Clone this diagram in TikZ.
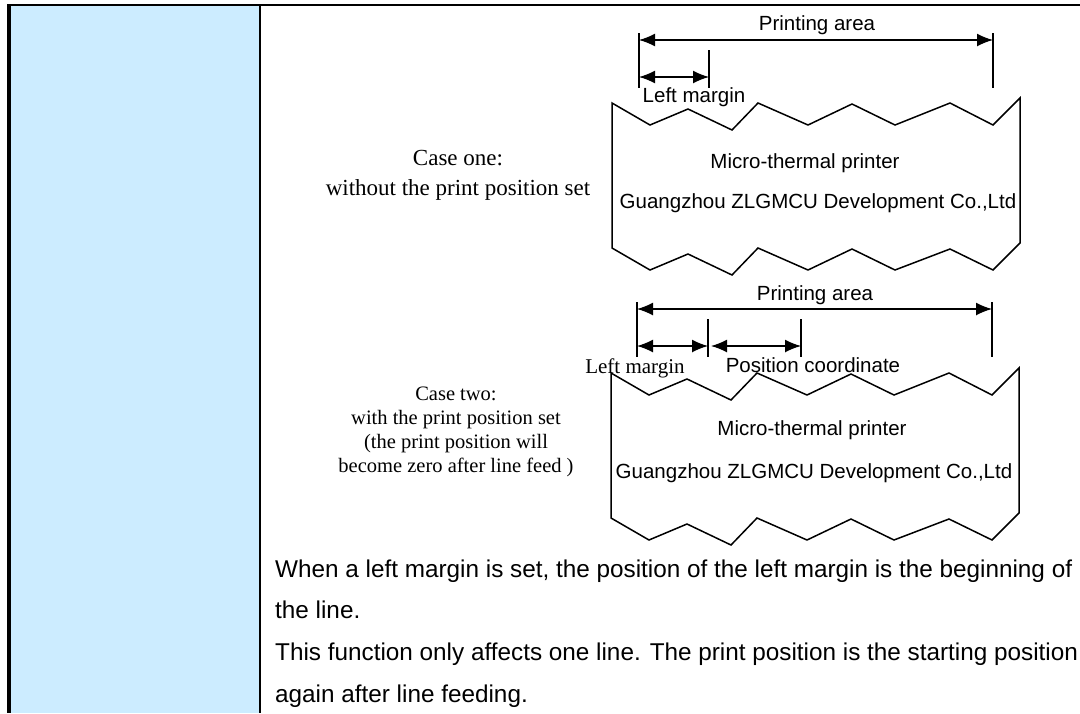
\documentclass[tikz,border=0pt]{standalone}
\usepackage{fontspec}
\setmainfont{Liberation Serif}
\newfontfamily\arial{Liberation Sans}
\usetikzlibrary{arrows.meta}

\definecolor{cellblue}{RGB}{204,236,255}

\tikzset{
  paper/.style={line width=1.5pt, line join=miter},
  tick/.style={line width=1.4pt},
  dimline/.style={line width=1.4pt, {Latex[length=16pt,width=13pt]}-{Latex[length=16pt,width=13pt]}},
  dimlabel/.style={font=\arial\fontsize{20.5}{24}\selectfont, anchor=base, inner sep=0pt},
  casetext/.style={align=center, anchor=base, inner sep=0pt},
  para/.style={font=\arial\fontsize{24.3}{29}\selectfont, anchor=base west, inner sep=0pt}
}

\begin{document}
\begin{tikzpicture}[x=1pt, y=-1pt]
\useasboundingbox (0,0) rectangle (1080,713);

% table cell
\fill[cellblue] (9,5) rectangle (260,713);
\draw[line width=2.5pt] (8,5) -- (1080,5);
\draw[line width=3.7pt] (9,4) -- (9,713);
\draw[line width=2.5pt] (260,5) -- (260,713);

% the two paper strips
\foreach \i/\dx/\dy in {1/0/0, 2/-1/270}
{
  \draw[paper, shift={(\dx,\dy)}] (612,103) -- (650,125) -- (688,109) -- (732,130)
    -- (758,103) -- (808,125) -- (852,104) -- (895,125) -- (950,103) -- (993,125)
    -- (1020,98) -- (1020,243) -- (993,270) -- (950,249) -- (895,270) -- (852,249)
    -- (808,270) -- (758,248) -- (732,275) -- (688,254) -- (650,270) -- (612,248) -- cycle;
}

% case one
\coordinate (pl1) at (639,33);
\coordinate (pr1) at (993,33);
\coordinate (lm1) at (709,50);
\draw[tick] (pl1) -- ++(0,55);
\draw[tick] (pr1) -- ++(0,55);
\draw[tick] (lm1) -- ++(0,38);
\draw[dimline] (pl1 |- 0,40) -- (pr1 |- 0,40);
\draw[dimline] (pl1 |- 0,77) -- (lm1 |- 0,77);

\node[dimlabel] (pa1) at (817,30) {Printing area};
\node[dimlabel] (lmt1) at (694,102) {Left margin};
\node[dimlabel] (mtp1) at (805,168) {Micro-thermal printer};
\node[dimlabel] (gz1) at (818,208) {Guangzhou ZLGMCU Development Co.,Ltd};
\node[casetext, font=\fontsize{23}{30}\selectfont] (case1) at (458,195)
  {Case one:\\without the print position set};

% case two
\coordinate (pl2) at (637,302);
\coordinate (pr2) at (992,302);
\coordinate (lm2) at (708,319);
\coordinate (pc2) at (801,319);
\draw[tick] (pl2) -- ++(0,55);
\draw[tick] (pr2) -- ++(0,55);
\draw[tick] (lm2) -- ++(0,38);
\draw[tick] (pc2) -- ++(0,38);
\draw[dimline] (pl2 |- 0,309) -- (pr2 |- 0,309);
\draw[dimline] (pl2 |- 0,346) -- (lm2 |- 0,346);
\draw[dimline, shorten <=3pt] (lm2 |- 0,346) -- (pc2 |- 0,346);

\node[dimlabel] (pa2) at (815,300) {Printing area};
\node[anchor=base, inner sep=0pt, font=\fontsize{21}{24}\selectfont] (lmt2) at (635,373) {Left margin};
\node[dimlabel] (pct2) at (813,372) {Position coordinate};
\node[dimlabel] (mtp2) at (812,435) {Micro-thermal printer};
\node[dimlabel] (gz2) at (814,478) {Guangzhou ZLGMCU Development Co.,Ltd};
\node[casetext, font=\fontsize{20.5}{24}\selectfont] (case2) at (456,472)
  {Case two:\\with the print position set\\(the print position will\\become zero after line feed )};

% description
\node[para] (p1) at (275,577) {When a left margin is set, the position of the left margin is the beginning of};
\node[para] (p2) at (275,618) {the line.};
\node[para] (p3) at (275,660) {This function only affects one line. The print position is the starting position};
\node[para] (p4) at (275,702) {again after line feeding.};
\end{tikzpicture}
\end{document}
